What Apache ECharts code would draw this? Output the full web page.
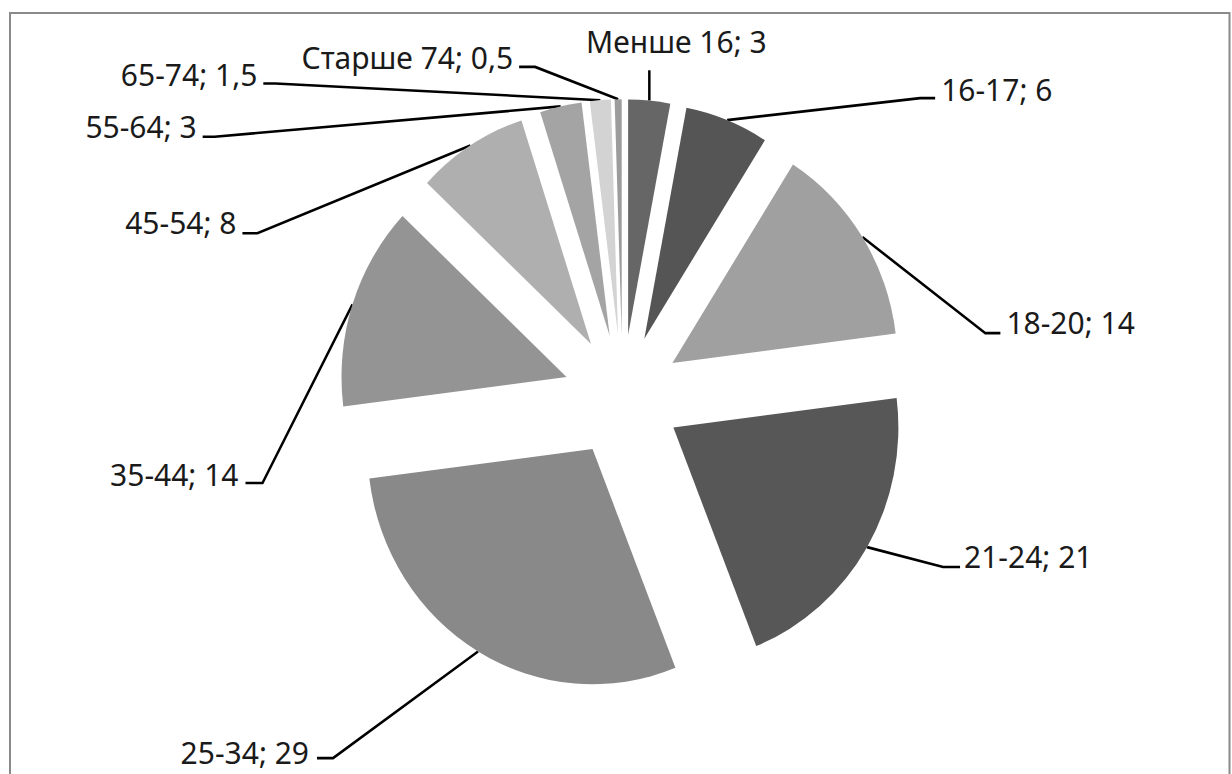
<!DOCTYPE html>
<html>
<head>
<meta charset="utf-8">
<title>Вікові групи</title>
<script src="https://cdn.jsdelivr.net/npm/echarts@6/dist/echarts.min.js"></script>
<style>
  html, body { margin: 0; padding: 0; background: #ffffff; width: 1232px; height: 774px; overflow: hidden; }
  #frame { position: relative; width: 1232px; height: 774px; overflow: hidden; }
  /* the chart is laid out slightly squat and stretched vertically to the frame height */
  #chart { position: absolute; left: 0; top: 0; width: 1232px; height: 741px; transform: scaleY(1.045); transform-origin: 0 0; }
</style>
</head>
<body>
<div id="frame"><div id="chart"></div></div>
<script>
// age groups and their shares, %
const categories = ['Менше 16', '16-17', '18-20', '21-24', '25-34', '35-44', '45-54', '55-64', '65-74', 'Старше 74'];
const shares = [3, 6, 14, 21, 29, 14, 8, 3, 1.5, 0.5];
const sliceColors = ['#666666', '#555555', '#a0a0a0', '#575757', '#898989', '#949494', '#afafaf', '#a4a4a4', '#d3d3d3', '#9c9c9c'];

// leader of every label: bend point relative to the slice's outer-arc midpoint,
// then a short horizontal run towards the text (0 = text sits above the line)
const leaderBends = [[0, -29], [193, -21], [123, 92], [76, 19], [-145, 102], [-90, 171], [-213, 84], [-346, 29], [-325, -16], [-83, -31]];
const leaderRuns = [0, 15, 15, 17, -16, -17, -15, -12, -12, -16];
// where each text is anchored (its middle), relative to the same arc midpoint
const labelOffsets = [[27, -57], [214, -30], [144, 81], [97, 8], [-169, 96], [-114, 162], [-234, 73], [-364, 18], [-343, -25], [-105, -41]];

const CENTER = [622.6, 379];
const RADIUS = 225;
const EXPLODE = 59;
const LINE_HEIGHT = 30;

function formatShare(v) {
  return String(v).replace('.', ',');
}

function verticalSide(i) {
  return labelOffsets[i][1] >= 0 ? 'top' : 'bottom';
}

// the text is pushed from the arc midpoint to its anchor through padding
function labelPadding(i) {
  const o = labelOffsets[i], run = leaderRuns[i];
  let top = 0, bottom = 0, left = 0, right = 0;
  if (verticalSide(i) === 'top') top = o[1] - LINE_HEIGHT / 2;
  else bottom = -o[1] - LINE_HEIGHT / 2;
  if (run > 0) left = o[0];
  else if (run < 0) right = -o[0];
  else if (o[0] > 0) left = 2 * o[0];
  else right = -2 * o[0];
  return [top, right, bottom, left];
}

const chart = echarts.init(document.getElementById('chart'), null, { renderer: 'svg' });

chart.setOption({
  animation: false,
  backgroundColor: '#ffffff',
  graphic: [{
    type: 'rect',
    silent: true,
    z: -10,
    shape: { x: 10, y: 12.5, width: 1219.5, height: 780 },
    style: { fill: 'none', stroke: '#8a8a8a', lineWidth: 2 }
  }],
  series: [{
    type: 'pie',
    center: CENTER,
    radius: RADIUS,
    startAngle: 90,
    clockwise: true,
    selectedMode: 'multiple',
    selectedOffset: EXPLODE,
    avoidLabelOverlap: false,
    emphasis: { disabled: true },
    itemStyle: { borderWidth: 0 },
    label: {
      show: true,
      position: 'outside',
      color: '#1a1a1a',
      fontFamily: 'Noto Sans',
      fontSize: 30,
      lineHeight: LINE_HEIGHT,
      distanceToLabelLine: 0,
      formatter: function (p) { return p.name + '; ' + formatShare(p.value); }
    },
    labelLine: {
      show: true,
      length: 0,
      length2: 0,
      lineStyle: { color: '#000000', width: 2.5 }
    },
    labelLayout: function (params) {
      const i = params.dataIndex;
      const pts = params.labelLinePoints;
      const run = leaderRuns[i];
      const out = {
        align: run > 0 ? 'left' : (run < 0 ? 'right' : 'center'),
        verticalAlign: verticalSide(i)
      };
      if (pts) {
        const p0 = pts[0];
        const b = leaderBends[i];
        const bend = [p0[0] + b[0], p0[1] + b[1]];
        out.labelLinePoints = [p0.slice(), bend, [bend[0] + run, bend[1]]];
      }
      return out;
    },
    data: categories.map(function (name, i) {
      return {
        name: name,
        value: shares[i],
        selected: true,
        itemStyle: { color: sliceColors[i] },
        label: { padding: labelPadding(i) }
      };
    })
  }]
});
</script>
</body>
</html>
